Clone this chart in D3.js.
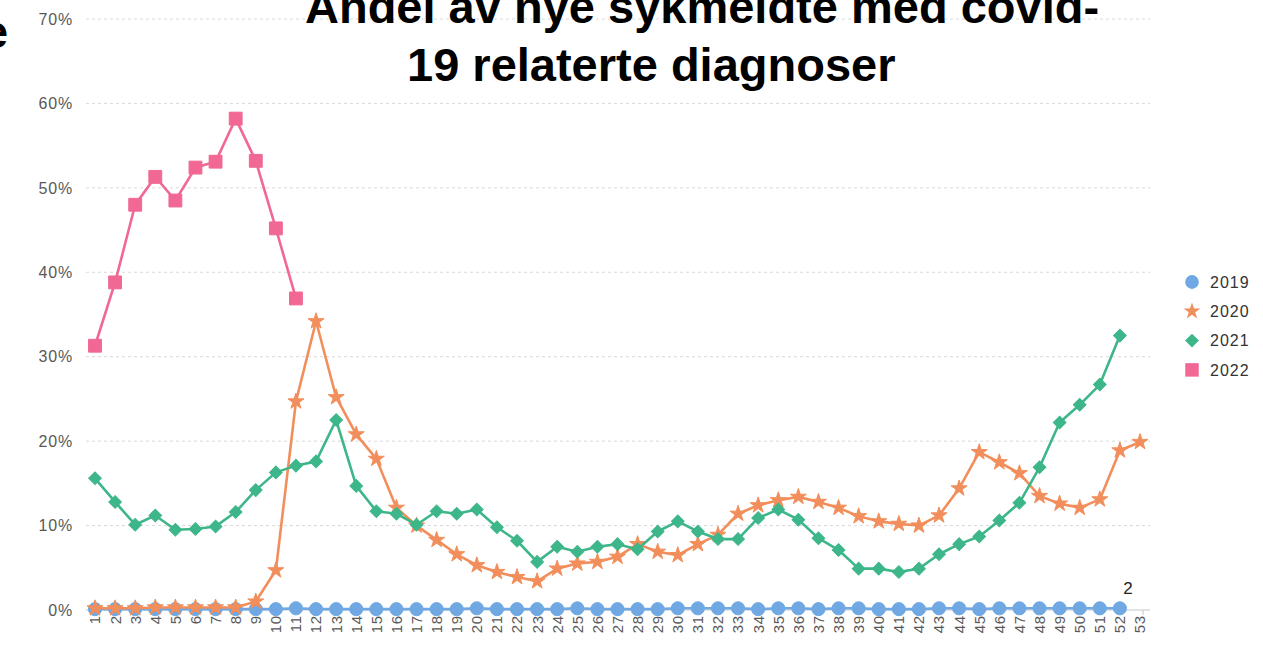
<!DOCTYPE html>
<html>
<head>
<meta charset="utf-8">
<script src="https://cdn.jsdelivr.net/npm/d3@7"></script>
<style>
  body { margin: 0; background: #fff; overflow: hidden; }
  svg { display: block; }
</style>
</head>
<body>
<div id="chart"></div>
<script>
// uke-nummer (kategorier)
var weeks = [1,2,3,4,5,6,7,8,9,10,11,12,13,14,15,16,17,18,19,20,21,22,23,24,25,26,
  27,28,29,30,31,32,33,34,35,36,37,38,39,40,41,42,43,44,45,46,47,48,49,50,51,52,53];

// andel i prosent, per uke
var y2019 = [0.1,0.1,0.1,0.1,0.1,0.1,0.1,0.1,0.1,0.1,0.2,0.1,0.1,0.1,0.1,0.1,0.1,0.1,0.1,0.2,
  0.1,0.1,0.1,0.1,0.2,0.1,0.1,0.1,0.1,0.2,0.2,0.2,0.2,0.1,0.2,0.2,0.1,0.2,0.2,0.1,0.1,0.1,
  0.2,0.2,0.1,0.2,0.2,0.2,0.2,0.2,0.2,0.2];
var y2020 = [0.2,0.2,0.2,0.3,0.3,0.3,0.3,0.3,1.0,4.7,24.7,34.2,25.2,20.8,17.9,12.1,10.0,8.3,
  6.6,5.3,4.5,3.9,3.4,4.9,5.5,5.7,6.3,7.8,6.9,6.5,7.8,8.9,11.4,12.4,13.0,13.4,12.8,12.1,
  11.1,10.5,10.2,10.0,11.2,14.4,18.7,17.5,16.2,13.5,12.6,12.1,13.1,18.9,19.9];
var y2021 = [15.6,12.8,10.1,11.2,9.5,9.6,9.9,11.6,14.2,16.3,17.1,17.6,22.5,14.7,11.7,11.4,
  10.1,11.7,11.4,11.9,9.8,8.2,5.7,7.5,6.9,7.5,7.8,7.2,9.3,10.5,9.3,8.4,8.4,10.9,11.9,10.7,
  8.5,7.1,4.9,4.9,4.5,4.9,6.6,7.8,8.7,10.6,12.7,16.9,22.2,24.3,26.7,32.5];
var y2022 = [31.3,38.8,48.0,51.3,48.5,52.4,53.1,58.2,53.2,45.2,36.9];

var yTicks = [0, 10, 20, 30, 40, 50, 60, 70];
var seriesNames = ['2019', '2020', '2021', '2022'];

var titleLines = ['Andel av nye sykmeldte med covid-', '19 relaterte diagnoser'];

var width = 1263, height = 646;
var labelFont = '"Liberation Sans", Arial, sans-serif';
var gridColor = '#d9d9d9';
var textColor = '#595959';

var colors = {
  '2019': '#6fa8e2',
  '2020': '#f28e5b',
  '2021': '#3db68a',
  '2022': '#f06893'
};

var symbols = {
  '2019': { type: d3.symbolCircle, size: 135, rotate: 0 },
  '2020': { type: d3.symbolStar, size: 80, rotate: 0 },
  '2021': { type: d3.symbolSquare, size: 80, rotate: 45 },
  '2022': { type: d3.symbolSquare, size: 165, rotate: 0 }
};

var svg = d3.select('#chart')
  .append('svg')
  .attr('width', width)
  .attr('height', height);

var x = d3.scalePoint()
  .domain(weeks)
  .range([95, 1140]);

var y = d3.scaleLinear()
  .domain([0, 70])
  .range([610, 19]);

// gridlines + y labels
svg.append('g')
  .selectAll('line')
  .data(yTicks.filter(function(d) { return d > 0; }))
  .enter()
  .append('line')
  .attr('x1', 86)
  .attr('x2', 1150)
  .attr('y1', function(d) { return y(d); })
  .attr('y2', function(d) { return y(d); })
  .attr('stroke', gridColor)
  .attr('stroke-width', 1)
  .attr('stroke-dasharray', '3,3');

svg.append('g')
  .selectAll('text')
  .data(yTicks)
  .enter()
  .append('text')
  .attr('x', 73)
  .attr('y', function(d) { return y(d); })
  .attr('dy', '0.36em')
  .attr('text-anchor', 'end')
  .attr('font-family', labelFont)
  .attr('font-size', '16px')
  .attr('letter-spacing', '0.8px')
  .attr('fill', textColor)
  .text(function(d) { return d + '%'; });

// x axis line
svg.append('line')
  .attr('x1', 86)
  .attr('x2', 1150)
  .attr('y1', y(0))
  .attr('y2', y(0))
  .attr('stroke', '#c8c8c8')
  .attr('stroke-width', 1);

svg.append('line')
  .attr('x1', x(53) + 3)
  .attr('x2', x(53) + 3)
  .attr('y1', y(0))
  .attr('y2', y(0) + 5)
  .attr('stroke', '#c8c8c8');

svg.append('g')
  .selectAll('text')
  .data(weeks)
  .enter()
  .append('text')
  .attr('transform', function(d) { return 'translate(' + x(d) + ',615) rotate(-90)'; })
  .attr('dy', '0.36em')
  .attr('text-anchor', 'end')
  .attr('font-family', labelFont)
  .attr('font-size', '15px')
  .attr('letter-spacing', '0.8px')
  .attr('fill', textColor)
  .text(function(d) { return d; });

// series
var allSeries = [
  { name: '2019', values: y2019 },
  { name: '2020', values: y2020 },
  { name: '2021', values: y2021 },
  { name: '2022', values: y2022 }
];

var line = d3.line()
  .x(function(d) { return x(d.week); })
  .y(function(d) { return y(d.value); });

allSeries.forEach(function(s) {
  var pts = s.values.map(function(v, i) { return { week: weeks[i], value: v }; });
  var sym = symbols[s.name];
  var g = svg.append('g');

  g.append('path')
    .datum(pts)
    .attr('d', line)
    .attr('fill', 'none')
    .attr('stroke', colors[s.name])
    .attr('stroke-width', 2.6)
    .attr('stroke-linejoin', 'round');

  g.selectAll('path.marker')
    .data(pts)
    .enter()
    .append('path')
    .attr('class', 'marker')
    .attr('d', d3.symbol().type(sym.type).size(sym.size))
    .attr('transform', function(d) {
      return 'translate(' + x(d.week) + ',' + y(d.value) + ') rotate(' + sym.rotate + ')';
    })
    .attr('fill', colors[s.name])
    .attr('stroke', colors[s.name])
    .attr('stroke-width', 1);
});

// legend
var legend = svg.append('g');
seriesNames.forEach(function(name, i) {
  var ly = 282 + i * 29.3;
  var sym = symbols[name];
  legend.append('path')
    .attr('d', d3.symbol().type(sym.type).size(sym.size * (name === '2021' ? 1.2 : 1.1)))
    .attr('transform', 'translate(1192,' + ly + ') rotate(' + sym.rotate + ')')
    .attr('fill', colors[name]);
  legend.append('text')
    .attr('x', 1210)
    .attr('y', ly)
    .attr('dy', '0.36em')
    .attr('font-family', labelFont)
    .attr('font-size', '16px')
    .attr('letter-spacing', '1px')
    .attr('fill', '#333')
    .text(name);
});

// small label near the end
svg.append('text')
  .attr('x', 1128)
  .attr('y', 594)
  .attr('text-anchor', 'middle')
  .attr('font-family', labelFont)
  .attr('font-size', '17px')
  .attr('fill', '#222')
  .text('2');

// title
svg.append('text')
  .attr('x', 305)
  .attr('y', 23)
  .attr('font-family', labelFont)
  .attr('font-weight', 'bold')
  .attr('font-size', '47px')
  .attr('fill', '#000')
  .text(titleLines[0]);

svg.append('text')
  .attr('x', 407)
  .attr('y', 81)
  .attr('font-family', labelFont)
  .attr('font-weight', 'bold')
  .attr('font-size', '47px')
  .attr('fill', '#000')
  .text(titleLines[1]);

// cut-off text at the left edge
svg.append('text')
  .attr('x', -18)
  .attr('y', 48)
  .attr('font-family', labelFont)
  .attr('font-weight', 'bold')
  .attr('font-size', '47px')
  .attr('fill', '#000')
  .text('e');
</script>
</body>
</html>
